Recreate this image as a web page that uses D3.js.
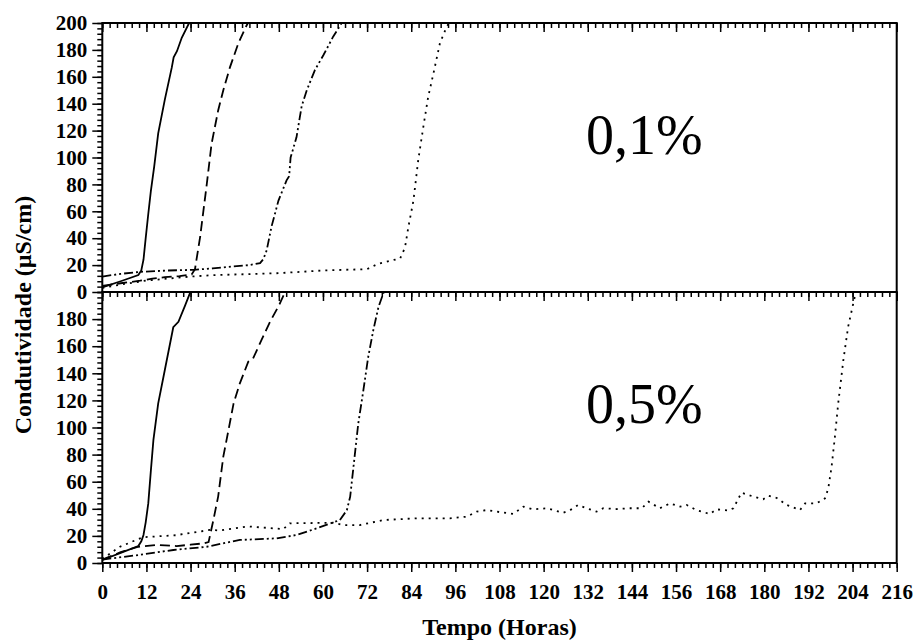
<!DOCTYPE html>
<html>
<head>
<meta charset="utf-8">
<script src="https://cdn.jsdelivr.net/npm/d3@7"></script>
<style>
  body { margin: 0; background: #fff; }
</style>
</head>
<body>
<div id="container"></div>
<script>
const widthSVG = 913,
    heightSVG = 643,
    serif = '"Liberation Serif", "Times New Roman", "DejaVu Serif", serif';

// tick labels
const xTickLabels = [0, 12, 24, 36, 48, 60, 72, 84, 96, 108, 120, 132, 144, 156, 168, 180, 192, 204, 216];
const yTickLabelsTop = [0, 20, 40, 60, 80, 100, 120, 140, 160, 180, 200];
const yTickLabelsBottom = [0, 20, 40, 60, 80, 100, 120, 140, 160, 180];
const panelLabels = ["0,1%", "0,5%"];

// 0,1% panel  [hours, µS/cm]
const top_solid = [[0,3.5],[5,8],[9.8,12.6],[10.6,16],[11.2,24],[11.8,40],[12.5,58],[13.2,75],[14.1,93],[15.2,118],[17,143],[18.9,167],[19.4,174.5],[20.3,179],[21.6,189],[23.6,200]];
const top_dashed = [[0,4.5],[5,6.5],[10.3,8.4],[13.6,9.9],[17,11],[21,11.8],[24.3,13],[25.2,17],[26.6,41],[28.4,80],[29.7,110],[31.5,135],[32.9,150],[34.7,167],[37,185],[39,197],[39.6,200]];
const top_dashdot = [[0,11.5],[5,13.5],[10.3,15],[18,16],[24.8,16.5],[30,17.5],[35.7,19],[40,20],[42.9,21.5],[43.8,24.5],[44.7,31],[46,48.5],[47.9,68],[50.1,83],[50.8,86],[51.2,100],[52.8,115],[54.2,138],[55.6,150],[57.8,165],[60.1,176],[62.8,190],[65.1,200]];
const top_dotted = [[0,3],[6,6],[12,8.5],[18,10],[24,11.5],[30,12.5],[36,13],[42,13.5],[48,14],[54,15],[60,16],[66,16.5],[72,17],[75,21],[78,23],[81,25],[82.3,33],[83.2,48],[84.6,68],[85.9,98],[87.3,123],[88.6,145],[90,162],[91.8,185],[93.6,197],[94.3,200]];

// 0,5% panel
const bot_solid = [[0,2.2],[5,7.5],[9.8,12.5],[10.6,16],[11.2,20.7],[11.8,30],[12.5,44],[13.2,68],[13.9,90.8],[15.2,117.8],[17,142.4],[19.3,174],[20.7,178],[22.5,190],[23.8,199],[24,200]];
const bot_dashed = [[0,2.5],[5,8],[9.8,12],[14.8,13.3],[20.2,12.5],[24,13.5],[27.5,14.5],[28.9,15.5],[30.2,31.7],[31.5,49],[32.9,78.5],[34.3,98],[35.7,117.8],[37.4,132.6],[39.7,148.6],[41,151],[43.3,164.6],[45.6,178],[48.1,190.4],[49.7,200]];
const bot_dashdot = [[0,2.5],[9.8,5.9],[19.3,9.6],[28.4,12],[37.4,17],[47.4,18.2],[52.9,20.7],[58.3,25.6],[64.6,31.7],[66.5,39],[67.4,49],[68.2,68.6],[69.6,103],[71,127.7],[72.3,152],[73.7,172],[75.1,189],[76.4,199],[76.6,200]];
const bot_dotted = [[0,3],[4.8,12],[11,19],[20,20.5],[29.3,24.4],[32,24],[39.7,27],[49.2,25],[51,29.3],[62.8,29.7],[65.4,28],[70,28],[76.4,31.7],[85.5,33],[94.5,33],[99.1,34.2],[101.8,37.9],[104.5,39.1],[107.2,37.9],[111.7,36.2],[114.5,41.6],[117.2,39.6],[120.8,40.4],[125.3,37.1],[127.2,39],[129.4,42.8],[131.7,40.4],[134.4,37.9],[136.2,40.4],[139.9,39.8],[143.5,40.4],[146.7,40.4],[148.5,45.3],[151.6,40.4],[154.4,44],[157.1,41.6],[158.9,42.8],[161.6,39],[165.2,36.2],[167,39.6],[170.2,38.7],[171.6,40.4],[173.8,51.9],[177,49],[179.7,47],[181.1,49.7],[183.4,48],[186.1,42.8],[189.7,39.1],[191.1,44],[194.2,44],[196.5,47.7],[197.4,55.1],[198.3,71.1],[199.2,93.2],[200.1,117.9],[201.5,149.8],[202.8,174.4],[204.2,191.7],[204.9,200]];

const dashes = { solid: null, dashed: "10,5", dashdot: "9,3,2,3,2,3", dotted: "2,5" };

const x = d3.scaleLinear().domain([0, 216]).range([102.3, 896.7]);
const yTop = d3.scaleLinear().domain([0, 200]).range([292, 23]);
const yBot = d3.scaleLinear().domain([0, 200]).range([563, 292]);

const svg = d3.select('#container')
    .append('svg')
    .attr('width', widthSVG)
    .attr('height', heightSVG);

const defs = svg.append('defs');
[["clipTop", yTop], ["clipBot", yBot]].forEach(([id, y]) => {
    defs.append('clipPath').attr('id', id)
        .append('rect')
        .attr('x', x(0)).attr('y', y(200))
        .attr('width', x(216) - x(0)).attr('height', y(0) - y(200));
});

function boldLabels(sel) {
    sel.selectAll('text')
        .attr('fill', '#000')
        .style('font-family', serif)
        .style('font-size', '21px')
        .style('font-weight', 'bold');
}

function drawPanel(y, series, clip, label, yLabels) {
    const line = d3.line().x(d => x(d[0])).y(d => y(d[1]));
    const g = svg.append('g').attr('clip-path', `url(#${clip})`);
    series.forEach(s => {
        g.append('path')
            .attr('d', line(s.data))
            .attr('fill', 'none')
            .attr('stroke', '#000')
            .attr('stroke-width', 1.8)
            .attr('stroke-dasharray', dashes[s.style]);
    });

    // left axis, minor + major ticks
    const left = svg.append('g').attr('transform', `translate(${x(0)},0)`)
        .call(d3.axisLeft(y).tickValues(d3.range(0, 201, 4)).tickSize(5).tickFormat(''));
    left.select('.domain').remove();
    const leftMajor = svg.append('g').attr('transform', `translate(${x(0)},0)`)
        .call(d3.axisLeft(y).tickValues(yLabels).tickSize(10).tickPadding(5));
    leftMajor.select('.domain').remove();
    boldLabels(leftMajor);

    // top ticks (pointing into the panel)
    const topMinor = svg.append('g').attr('transform', `translate(0,${y(200)})`)
        .call(d3.axisBottom(x).tickValues(d3.range(0, 217, 2)).tickSize(5).tickFormat(''));
    topMinor.select('.domain').remove();
    const topMajor = svg.append('g').attr('transform', `translate(0,${y(200)})`)
        .call(d3.axisBottom(x).tickValues(xTickLabels).tickSize(9).tickFormat(''));
    topMajor.select('.domain').remove();

    svg.append('rect')
        .attr('x', x(0)).attr('y', y(200))
        .attr('width', x(216) - x(0)).attr('height', y(0) - y(200))
        .attr('fill', 'none')
        .attr('stroke', '#000')
        .attr('stroke-width', 2);

    svg.append('text')
        .attr('x', x(131.5))
        .attr('y', y(200) + 131)
        .style('font-family', serif)
        .style('font-size', '56px')
        .text(label);
}

drawPanel(yTop, [
    { style: 'solid', data: top_solid },
    { style: 'dashed', data: top_dashed },
    { style: 'dashdot', data: top_dashdot },
    { style: 'dotted', data: top_dotted }
], 'clipTop', panelLabels[0], yTickLabelsTop);

drawPanel(yBot, [
    { style: 'solid', data: bot_solid },
    { style: 'dashed', data: bot_dashed },
    { style: 'dashdot', data: bot_dashdot },
    { style: 'dotted', data: bot_dotted }
], 'clipBot', panelLabels[1], yTickLabelsBottom);

// bottom x axis
const xMinor = svg.append('g').attr('transform', `translate(0,${yBot(0)})`)
    .call(d3.axisBottom(x).tickValues(d3.range(0, 217, 2)).tickSize(5).tickFormat(''));
xMinor.select('.domain').remove();
const xAxis = svg.append('g').attr('transform', `translate(0,${yBot(0)})`)
    .call(d3.axisBottom(x).tickValues(xTickLabels).tickSize(9).tickPadding(12));
xAxis.select('.domain').remove();
boldLabels(xAxis);
svg.selectAll('.tick line').attr('stroke-width', 1.5);

svg.append('text')
    .attr('x', (x(0) + x(216)) / 2)
    .attr('y', 635)
    .attr('text-anchor', 'middle')
    .style('font-family', serif)
    .style('font-size', '24px')
    .style('font-weight', 'bold')
    .text('Tempo (Horas)');

svg.append('text')
    .attr('transform', 'translate(31,315) rotate(-90)')
    .attr('text-anchor', 'middle')
    .style('font-family', serif)
    .style('font-size', '24px')
    .style('font-weight', 'bold')
    .text('Condutividade (µS/cm)');
</script>
</body>
</html>
